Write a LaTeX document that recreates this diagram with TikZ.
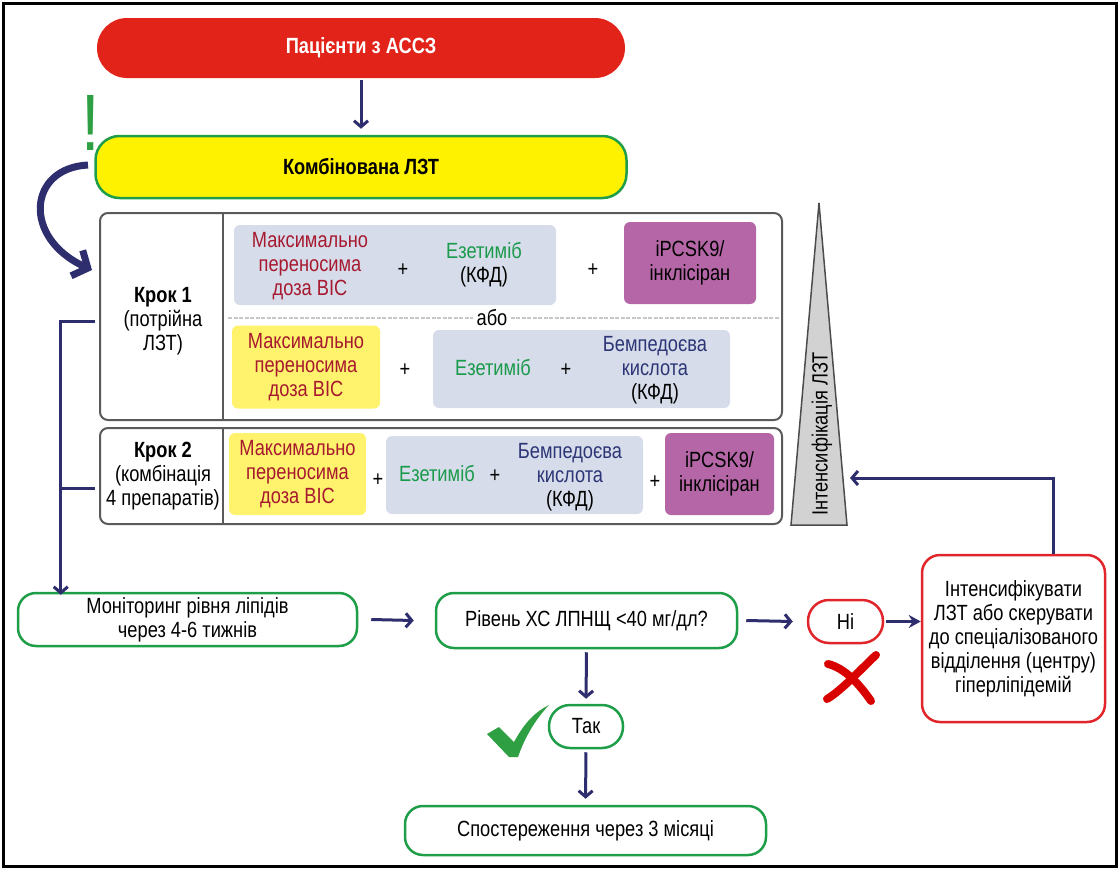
\documentclass[tikz,border=0pt]{standalone}
\usepackage{fontspec}
\setmainfont{Liberation Sans}[FakeStretch=0.83]
\usetikzlibrary{arrows.meta, positioning}
\definecolor{clrRed}{HTML}{E2231A}
\definecolor{clrRedBd}{HTML}{E0262B}
\definecolor{clrYel}{HTML}{FFF200}
\definecolor{clrYelLt}{HTML}{FFF36D}
\definecolor{clrGrn}{HTML}{1E9E48}
\definecolor{clrNavy}{HTML}{2E2D6E}
\definecolor{clrBg}{HTML}{D6DCEA}
\definecolor{clrMag}{HTML}{B566A6}
\definecolor{clrTxtRed}{HTML}{A6192E}
\definecolor{clrTxtGrn}{HTML}{1A9A4B}
\definecolor{clrTxtNavy}{HTML}{2C3576}
\definecolor{clrStep}{HTML}{5A5A5A}
\definecolor{clrTri}{HTML}{D2D2D2}
\definecolor{clrChk}{HTML}{2EA043}
\newcommand\txtsz{\fontsize{22}{24}\selectfont}

\tikzset{
  boxGrn/.style={draw=clrGrn, line width=2.5pt, rounded corners=18pt, align=center},
  boxRed/.style={draw=clrRedBd, line width=2.5pt, rounded corners=18pt, align=center},
  stepBox/.style={draw=clrStep, line width=2pt, rounded corners=8pt},
  drugBg/.style={fill=clrBg, rounded corners=6pt},
  drugYel/.style={fill=clrYelLt, rounded corners=6pt, text=clrTxtRed, align=center},
  drugMag/.style={fill=clrMag, rounded corners=6pt, align=center},
  arr/.style={draw=clrNavy, line width=3pt, -{Straight Barb[length=6pt, width=14pt]}},
  arrS/.style={draw=clrNavy, line width=3pt, -{Stealth[length=12pt, width=13pt]}},
  ln/.style={draw=clrNavy, line width=3pt}
}

\begin{document}
\begin{tikzpicture}[x=1pt, y=-1pt, font=\txtsz]
  \useasboundingbox (0,0) rectangle (1120,870);
  \draw[line width=3pt] (3,3) rectangle (1116,866);

  % top
  \node[fill=clrRed, rounded corners=30pt, minimum width=528, minimum height=60,
        text=white, font=\txtsz\bfseries] (pat) at (361,48) {Пацієнти з АССЗ};
  \node[fill=clrYel, draw=clrGrn, line width=2.5pt, rounded corners=24pt,
        minimum width=531, minimum height=62, font=\txtsz\bfseries] (komb) at (361,167) {Комбінована ЛЗТ};
  \draw[arr, shorten <=2pt, shorten >=6pt] (pat) -- (komb);

  \node[text=clrChk, font=\fontsize{80}{80}\selectfont, anchor=base] (excl) at (91,150) {!};
  \draw[clrNavy, line width=7pt, -{Straight Barb[length=12pt, width=28pt]}]
    (88,165) .. controls (28,168) and (22,238) .. (92,270);

  % steps
  \node[stepBox, minimum width=682, minimum height=207] (krok1) at (441,316.5) {};
  \draw[stepBox] ([xshift=124pt]krok1.north west) -- ++(0,207);
  \node[stepBox, minimum width=682, minimum height=96] (krok2) at (441,476) {};
  \draw[stepBox] ([xshift=124pt]krok2.north west) -- ++(0,96);
  \node[align=center] (k1lab) at (163,321) {\textbf{Крок 1}\\(потрійна\\ЛЗТ)};
  \node[align=center] (k2lab) at (163,476) {\textbf{Крок 2}\\(комбінація\\4 препаратів)};

  % row 1
  \node[drugBg, minimum width=322, minimum height=80] (r1bg) at (395,265) {};
  \node[text=clrTxtRed, align=center] (r1vis) at (310,266) {Максимально\\переносима\\доза ВІС};
  \node (r1p1) at (403,270) {+};
  \node[align=center] (r1eze) at (484,265) {\textcolor{clrTxtGrn}{Езетиміб}\\(КФД)};
  \node (r1p2) at (593,270) {+};
  \node[drugMag, minimum width=132, minimum height=82] (r1pcsk) at (690,263) {iPCSK9/\\інклісіран};
  \node (abo) at (492,318) {або};
  \draw[black!22, line width=1.5pt, dash pattern=on 4pt off 1.5pt] (228,318) -- (abo.west);
  \draw[black!22, line width=1.5pt, dash pattern=on 4pt off 1.5pt] (abo.east) -- (780,318);

  % row 2
  \node[drugYel, minimum width=148, minimum height=83] (r2vis) at (306,367) {Максимально\\переносима\\доза ВІС};
  \node (r2p1) at (405,370) {+};
  \node[drugBg, minimum width=297, minimum height=78] (r2bg) at (581.5,369) {};
  \node[text=clrTxtGrn] (r2eze) at (493,368) {Езетиміб};
  \node (r2p2) at (566,370) {+};
  \node[text=clrTxtNavy, align=center] (r2bemp) at (655,370) {Бемпедоєва\\кислота\\\textcolor{black}{(КФД)}};

  % row 3
  \node[drugYel, minimum width=137, minimum height=82] (r3vis) at (297.5,474) {Максимально\\переносима\\доза ВІС};
  \node (r3p1) at (378,480) {+};
  \node[drugBg, minimum width=257, minimum height=78] (r3bg) at (514.5,475) {};
  \node[text=clrTxtGrn] (r3eze) at (437,474) {Езетиміб};
  \node (r3p2) at (495,476) {+};
  \node[text=clrTxtNavy, align=center] (r3bemp) at (570,477) {Бемпедоєва\\кислота\\\textcolor{black}{(КФД)}};
  \node (r3p3) at (655,482) {+};
  \node[drugMag, minimum width=109, minimum height=82] (r3pcsk) at (719.5,474) {iPCSK9/\\інклісіран};

  % triangle
  \filldraw[fill=clrTri, draw=black!70, line width=1.5pt] (819,203) -- (847,525) -- (791,525) -- cycle;
  \node[rotate=90] (intLab) at (822,434) {Інтенсифікація ЛЗТ};
  \coordinate (triR) at (850,478);

  % bottom
  \node[boxGrn, minimum width=339, minimum height=53] (mon) at (187.5,619.5) {Моніторинг рівня ліпідів\\через 4-6 тижнів};
  \node[boxGrn, minimum width=301, minimum height=55] (riv) at (586.5,620.5) {Рівень ХС ЛПНЩ <40 мг/дл?};
  \node[boxRed, rounded corners=21pt, minimum width=75, minimum height=43] (ni) at (845.5,621.5) {Ні};
  \node[boxRed, minimum width=183, minimum height=167] (intens) at (1013.5,638.5)
    {Інтенсифікувати\\ЛЗТ або скерувати\\до спеціалізованого\\відділення (центру)\\гіперліпідемій};
  \node[boxGrn, rounded corners=21pt, minimum width=74, minimum height=43] (tak) at (586,726.5) {Так};
  \node[boxGrn, minimum width=361, minimum height=49] (spost) at (585.5,830.5) {Спостереження через 3 місяці};

  \draw[arr] ([xshift=13pt]mon.east) -- ([xshift=-21pt]riv.west);
  \draw[arr] ([xshift=8pt]riv.east) -- ([xshift=-14pt]ni.west);
  \draw[arrS, shorten <=2pt] (ni.east) -- (ni.east -| intens.west);
  \draw[arr, shorten <=3pt, shorten >=5pt] (riv.south) -- (tak.north);
  \draw[arr, shorten <=3pt, shorten >=6pt] (tak.south) -- (spost.north);
  \draw[arr] ([xshift=39.5pt]intens.north) |- (triR);

  % bracket
  \coordinate (brA) at (95,321);
  \coordinate (brB) at (95,488);
  \draw[arr] (brA) -| ([xshift=44pt, yshift=-3pt]mon.north west);
  \draw[ln] (brB) -- ++(-33,0);

  % check and cross
  \fill[clrChk] (487,734) -- (499,727) -- (514,742) .. controls (525,722) and (535,712) .. (549,705)
    .. controls (535,720) and (525,737) .. (518,757) -- (509,757) -- cycle;
  \draw[red!85!black, line width=8pt, line cap=round] (828,664) .. controls (845,668) and (860,685) .. (871,701);
  \draw[red!85!black, line width=8pt, line cap=round] (876,655) .. controls (860,670) and (842,690) .. (827,699);
\end{tikzpicture}
\end{document}
